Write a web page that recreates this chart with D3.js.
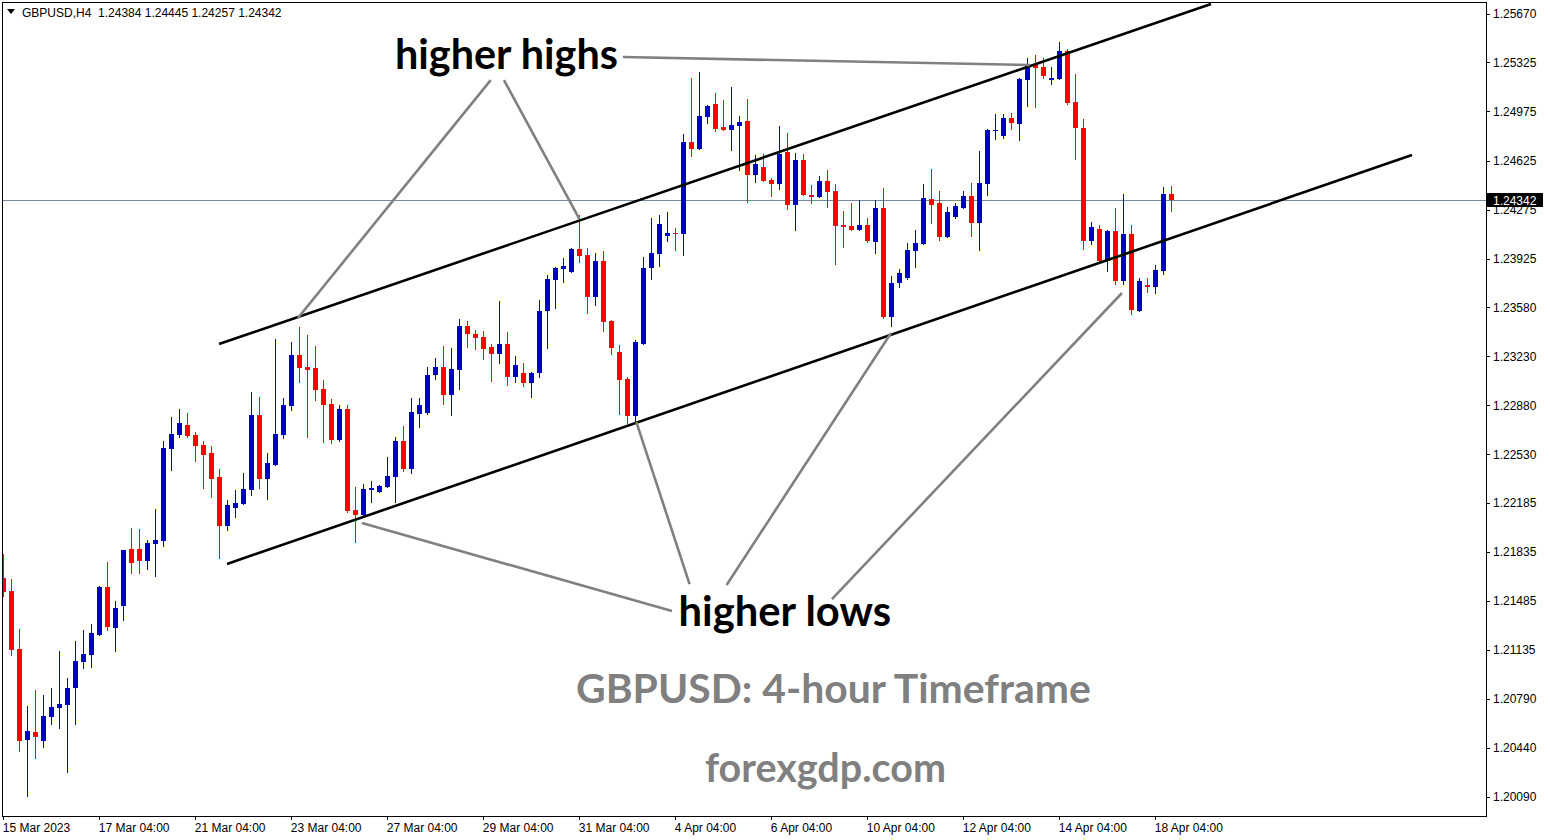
<!DOCTYPE html>
<html><head><meta charset="utf-8">
<script src="https://cdn.jsdelivr.net/npm/d3@7"></script>
<style>html,body{margin:0;padding:0;background:#fff;overflow:hidden}</style>
</head><body><svg id="c" width="1550" height="840"></svg>
<script>
// ---- data (GBPUSD H4, 4-hour candles) ----
const opens=[1.21649,1.21556,1.21143,1.20494,1.20551,1.20487,1.20658,1.20722,1.20744,1.20865,1.21050,1.21100,1.21243,1.21585,1.21293,1.21450,1.21856,1.21856,1.21770,1.21892,1.21913,1.22569,1.22669,1.22740,1.22669,1.22597,1.22540,1.22369,1.22020,1.22148,1.22177,1.22277,1.22811,1.22355,1.22455,1.22669,1.22875,1.23239,1.23153,1.23146,1.22997,1.22890,1.22633,1.22854,1.22134,1.22098,1.22277,1.22262,1.22298,1.22369,1.22626,1.22426,1.22818,1.22826,1.23096,1.23153,1.22954,1.23132,1.23446,1.23389,1.23367,1.23296,1.23246,1.23317,1.23082,1.23111,1.23039,1.23111,1.23553,1.23774,1.23852,1.23831,1.23995,1.23952,1.23652,1.23909,1.23481,1.23260,1.23068,1.22804,1.23317,1.23859,1.23959,1.24087,1.24109,1.24102,1.24757,1.24708,1.24936,1.25028,1.24864,1.24843,1.24872,1.24907,1.24522,1.24579,1.24487,1.24458,1.24686,1.24308,1.24629,1.24380,1.24365,1.24479,1.24408,1.24166,1.24159,1.24130,1.24166,1.24045,1.24287,1.23510,1.23752,1.23788,1.23980,1.24030,1.24351,1.24323,1.24080,1.24223,1.24287,1.24373,1.24180,1.24458,1.24836,1.24800,1.24929,1.24886,1.25199,1.25306,1.25292,1.25199,1.25207,1.25406,1.25043,1.24857,1.24052,1.24137,1.23909,1.24123,1.23767,1.24102,1.23553,1.23738,1.23724,1.23838,1.24384];
const highs=[1.21820,1.21642,1.21286,1.20737,1.20851,1.20815,1.20865,1.21129,1.20936,1.21200,1.21279,1.21321,1.21592,1.21763,1.21485,1.21852,1.22006,1.21999,1.21920,1.22141,1.22626,1.22797,1.22854,1.22826,1.22690,1.22626,1.22590,1.22426,1.22205,1.22277,1.22398,1.22975,1.22940,1.22540,1.23353,1.22932,1.23332,1.23439,1.23382,1.23303,1.23061,1.22925,1.22883,1.22883,1.22298,1.22319,1.22341,1.22310,1.22512,1.22654,1.22733,1.22932,1.22932,1.23153,1.23218,1.23303,1.23289,1.23496,1.23481,1.23417,1.23410,1.23317,1.23624,1.23403,1.23232,1.23182,1.23118,1.23631,1.23809,1.23866,1.23931,1.24002,1.24237,1.24002,1.23966,1.23980,1.23488,1.23310,1.23082,1.23346,1.23938,1.24215,1.24237,1.24258,1.24144,1.24815,1.25214,1.25257,1.25021,1.25107,1.25057,1.25150,1.24943,1.25064,1.24665,1.24672,1.24501,1.24872,1.24822,1.24679,1.24672,1.24451,1.24515,1.24558,1.24458,1.24266,1.24323,1.24344,1.24215,1.24344,1.24430,1.23802,1.23852,1.24037,1.24130,1.24458,1.24565,1.24408,1.24294,1.24323,1.24408,1.24465,1.24693,1.24850,1.24957,1.24957,1.24964,1.25214,1.25356,1.25378,1.25356,1.25292,1.25470,1.25420,1.25242,1.24921,1.24187,1.24166,1.24130,1.24287,1.24387,1.24166,1.23788,1.23788,1.23881,1.24437,1.24445];
const lows=[1.21514,1.21093,1.20409,1.20088,1.20359,1.20437,1.20601,1.20573,1.20259,1.20601,1.21001,1.21008,1.21238,1.21271,1.21122,1.21343,1.21678,1.21678,1.21706,1.21656,1.21870,1.22412,1.22647,1.22647,1.22476,1.22284,1.22220,1.21785,1.21984,1.22077,1.22172,1.22234,1.22284,1.22205,1.22450,1.22640,1.22840,1.23039,1.22647,1.22911,1.22612,1.22605,1.22619,1.22113,1.21899,1.22093,1.22184,1.22257,1.22293,1.22184,1.22405,1.22391,1.22719,1.22811,1.23061,1.22883,1.22804,1.22989,1.23289,1.23275,1.23203,1.23047,1.23175,1.23018,1.23039,1.23011,1.22932,1.23075,1.23282,1.23567,1.23752,1.23824,1.23895,1.23531,1.23588,1.23403,1.23239,1.22811,1.22747,1.22761,1.23310,1.23774,1.23866,1.24045,1.23980,1.23945,1.24651,1.24700,1.24886,1.24829,1.24836,1.24693,1.24551,1.24323,1.24465,1.24472,1.24365,1.24415,1.24273,1.24123,1.24373,1.24315,1.24358,1.24287,1.23881,1.24002,1.24123,1.24125,1.24037,1.23959,1.23496,1.23439,1.23717,1.23774,1.23859,1.24025,1.24173,1.24052,1.24073,1.24209,1.24282,1.24080,1.23980,1.24373,1.24772,1.24779,1.24843,1.24765,1.25007,1.25000,1.25207,1.25164,1.25199,1.25021,1.24629,1.23988,1.24023,1.23904,1.23831,1.23738,1.23738,1.23524,1.23548,1.23681,1.23674,1.23809,1.24257];
const closes=[1.21549,1.21136,1.20487,1.20559,1.20516,1.20665,1.20730,1.20751,1.20865,1.21058,1.21107,1.21257,1.21585,1.21300,1.21435,1.21849,1.21756,1.21770,1.21899,1.21920,1.22576,1.22676,1.22754,1.22662,1.22590,1.22526,1.22355,1.22020,1.22170,1.22184,1.22284,1.22811,1.22355,1.22469,1.22676,1.22883,1.23239,1.23146,1.23132,1.22989,1.22883,1.22633,1.22854,1.22127,1.22098,1.22284,1.22291,1.22305,1.22376,1.22626,1.22426,1.22833,1.22883,1.23096,1.23153,1.22954,1.23139,1.23446,1.23389,1.23360,1.23282,1.23246,1.23317,1.23082,1.23168,1.23039,1.23111,1.23553,1.23781,1.23859,1.23873,1.23995,1.23945,1.23652,1.23909,1.23474,1.23289,1.23061,1.22804,1.23332,1.23859,1.23966,1.24173,1.24109,1.24102,1.24757,1.24708,1.24943,1.25014,1.24850,1.24843,1.24879,1.24900,1.24522,1.24601,1.24479,1.24458,1.24672,1.24308,1.24629,1.24380,1.24365,1.24479,1.24401,1.24159,1.24152,1.24130,1.24166,1.24052,1.24287,1.23510,1.23752,1.23824,1.23988,1.24037,1.24358,1.24308,1.24080,1.24258,1.24301,1.24373,1.24180,1.24465,1.24843,1.24843,1.24929,1.24893,1.25207,1.25306,1.25285,1.25228,1.25214,1.25406,1.25036,1.24857,1.24052,1.24152,1.23909,1.24123,1.23767,1.24102,1.23560,1.23767,1.23724,1.23845,1.24387,1.24342];

const xTickIndex=[0,12,24,36,48,60,72,84,96,108,120,132,144];
const xTickLabels=["15 Mar 2023","17 Mar 04:00","21 Mar 04:00","23 Mar 04:00","27 Mar 04:00","29 Mar 04:00","31 Mar 04:00","4 Apr 04:00","6 Apr 04:00","10 Apr 04:00","12 Apr 04:00","14 Apr 04:00","18 Apr 04:00"];
const yTickValues=[1.25670,1.25325,1.24975,1.24625,1.24275,1.23925,1.23580,1.23230,1.22880,1.22530,1.22185,1.21835,1.21485,1.21135,1.20790,1.20440,1.20090];
const lastPrice=1.24342;
const headerText="GBPUSD,H4  1.24384 1.24445 1.24257 1.24342";

// trend channel lines [barIndex, price]
const channelUpper=[[26.96,1.23317],[150.96,1.25741]];
const channelLower=[[27.96,1.21749],[176.08,1.24665]];
// annotation pointer lines [barIndex, price]
const highPointers=[
  [[60.92,1.25199],[36.83,1.23503]],
  [[62.58,1.25199],[72.0,1.24209]],
  [[77.46,1.25363],[128.33,1.25306]]
];
const lowPointers=[
  [[83.58,1.21414],[44.83,1.22041]],
  [[85.78,1.21606],[79.13,1.22761]],
  [[90.41,1.21599],[110.96,1.23396]],
  [[103.58,1.21499],[139.83,1.23681]]
];

// ---- layout ----
const L=2.5,T=2.5,R=1486.5,B=816;
const svg=d3.select("#c");
const x=d3.scaleLinear().domain([0,146]).range([3.33,3.33+8*146]);
const y=d3.scaleLinear().domain([1.20090,1.25670]).range([796.7,14]);
const AX="'Liberation Sans', Arial, sans-serif";

svg.append("defs").append("clipPath").attr("id","plot")
  .append("rect").attr("x",L).attr("y",T).attr("width",R-L).attr("height",B-T);

const g=svg.append("g").attr("clip-path","url(#plot)");

// current price line
g.append("line").attr("x1",L).attr("x2",R).attr("y1",Math.round(y(lastPrice))+0.5).attr("y2",Math.round(y(lastPrice))+0.5)
  .attr("stroke","#778899").attr("stroke-width",1);

// candles
const data=opens.map((o,i)=>({i,o,h:highs[i],l:lows[i],c:closes[i]}));
const cg=g.append("g").attr("shape-rendering","crispEdges");
const col=d=>d.c>=d.o?"#0000cc":"#ff0000";
cg.selectAll("rect.w").data(data).join("rect").attr("class","w")
  .attr("x",d=>Math.round(x(d.i)))
  .attr("width",1)
  .attr("y",d=>Math.round(y(d.h)))
  .attr("height",d=>Math.max(1,Math.round(y(d.l))-Math.round(y(d.h))))
  .attr("fill",col);
cg.selectAll("rect.b").data(data).join("rect").attr("class","b")
  .attr("x",d=>Math.round(x(d.i))-2)
  .attr("width",5)
  .attr("y",d=>Math.round(y(Math.max(d.o,d.c))))
  .attr("height",d=>Math.max(1,Math.round(y(Math.min(d.o,d.c)))-Math.round(y(Math.max(d.o,d.c)))))
  .attr("fill",col);

// channel lines
const ln=d3.line().x(d=>x(d[0])).y(d=>y(d[1]));
[channelUpper,channelLower].forEach(p=>{
  g.append("path").attr("d",ln(p)).attr("stroke","#000").attr("stroke-width",2.6).attr("fill","none");
});
// pointer lines
highPointers.concat(lowPointers).forEach(p=>{
  g.append("path").attr("d",ln(p)).attr("stroke","#808080").attr("stroke-width",2.6).attr("fill","none");
});

// texts
function fitText(sel,target){
  const w=sel.node().getComputedTextLength();
  const fs=parseFloat(sel.attr("font-size"));
  if(w>0) sel.attr("font-size",(fs*target/w).toFixed(2));
  return sel;
}
const TF="Lato, 'Open Sans', sans-serif";
fitText(g.append("text").attr("x",395).attr("y",69).attr("font-family",TF).attr("font-weight",700)
  .attr("font-size",40).attr("fill","#000").text("higher highs"),223);
fitText(g.append("text").attr("x",678.5).attr("y",626).attr("font-family",TF).attr("font-weight",700)
  .attr("font-size",40).attr("fill","#000").text("higher lows"),212.5);
fitText(g.append("text").attr("x",576).attr("y",703).attr("font-family",TF).attr("font-weight",700)
  .attr("font-size",40).attr("fill","#808080").text("GBPUSD: 4-hour Timeframe"),515);
fitText(g.append("text").attr("x",705).attr("y",782).attr("font-family",TF).attr("font-weight",700)
  .attr("font-size",40).attr("fill","#808080").text("forexgdp.com"),241);

// header
svg.append("path").attr("d","M7,9L15,9L11,14Z").attr("fill","#000");
svg.append("text").attr("x",22).attr("y",17).attr("font-family",AX).attr("font-size",12)
  .attr("fill","#000").style("white-space","pre").text(headerText);

// frame
svg.append("rect").attr("x",L).attr("y",T).attr("width",R-L).attr("height",B-T)
  .attr("fill","none").attr("stroke","#000").attr("stroke-width",1).attr("shape-rendering","crispEdges");

// y axis
const yAxis=d3.axisRight(y).tickValues(yTickValues).tickFormat(d3.format(".5f")).tickSize(4).tickPadding(3);
const ya=svg.append("g").attr("transform",`translate(${R-0.5},0)`).call(yAxis);
ya.select(".domain").remove();
ya.selectAll("text").attr("font-family",AX).attr("font-size",12).attr("fill","#000");
ya.selectAll("line").attr("stroke","#000").attr("shape-rendering","crispEdges");

// x axis
const xAxis=d3.axisBottom(x).tickValues(xTickIndex).tickFormat((d,i)=>xTickLabels[i]).tickSize(4);
const xa=svg.append("g").attr("transform",`translate(0,${B})`).call(xAxis);
xa.select(".domain").remove();
xa.selectAll("line").attr("stroke","#000").attr("shape-rendering","crispEdges");
xa.selectAll("text").attr("font-family",AX).attr("font-size",12).attr("fill","#000")
  .attr("text-anchor","start").attr("dy",0).attr("y",16).attr("x",-1);

// current price label
const py=y(lastPrice);
svg.append("rect").attr("x",R+0.5).attr("y",Math.round(py)-7).attr("width",56).attr("height",14).attr("fill","#000");
svg.append("text").attr("x",R+6.5).attr("y",py).attr("dy","0.36em").attr("font-family",AX).attr("font-size",12)
  .attr("fill","#fff").text(d3.format(".5f")(lastPrice));
</script>
</body></html>
